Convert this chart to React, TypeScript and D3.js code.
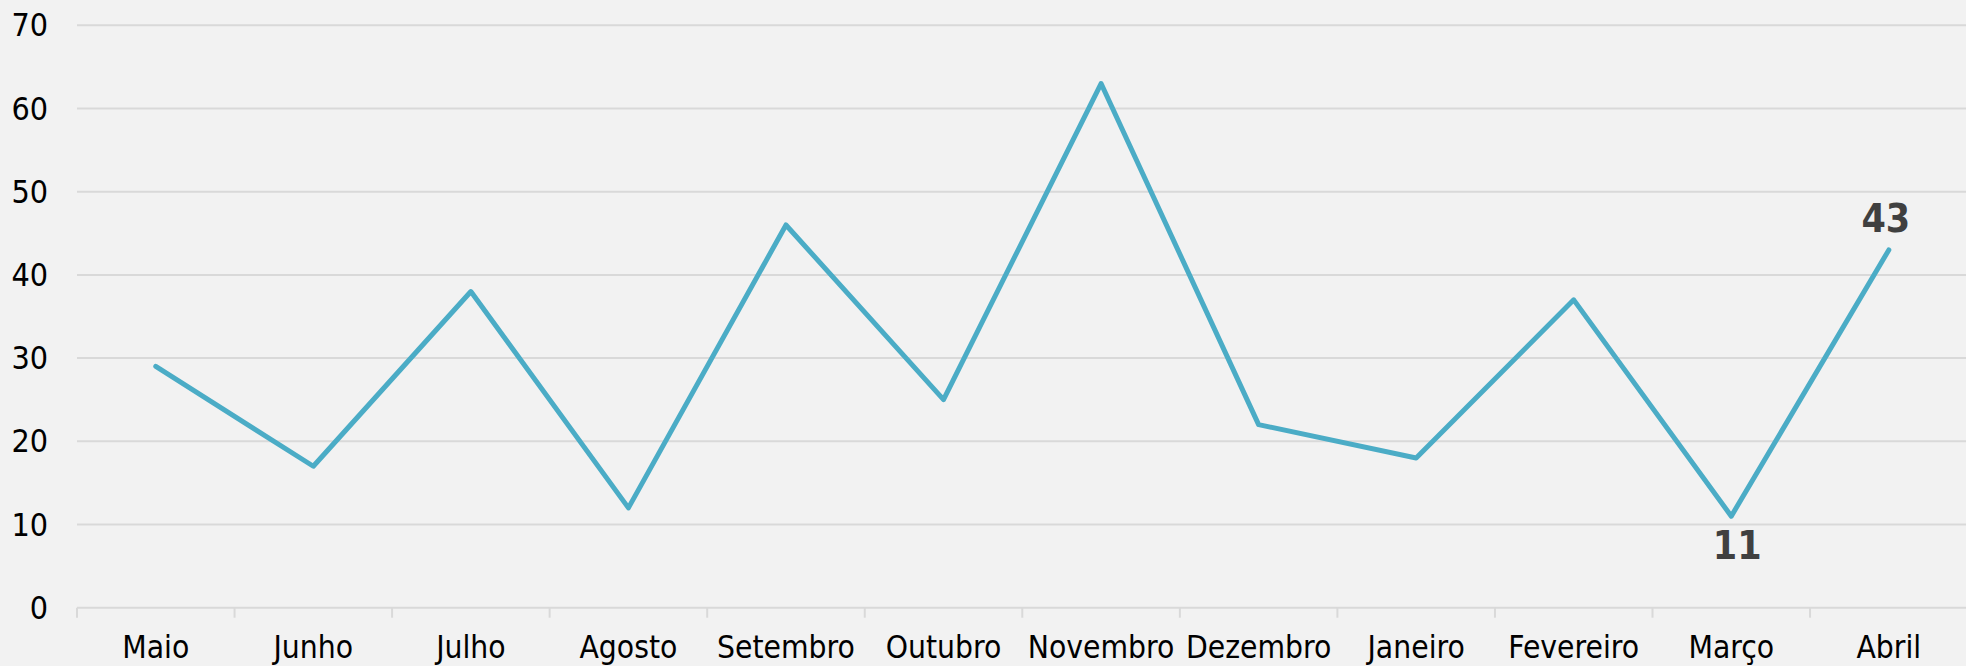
import React from "react";
import * as d3 from "d3";

const categories = ["Maio", "Junho", "Julho", "Agosto", "Setembro", "Outubro", "Novembro", "Dezembro", "Janeiro", "Fevereiro", "Março", "Abril"];
const values = [29, 17, 38, 12, 46, 25, 63, 22, 18, 37, 11, 43];
const yTicks = [0, 10, 20, 30, 40, 50, 60, 70];
const labelled = [
  { index: 10, pos: "below" },
  { index: 11, pos: "above" },
];

const W = 1966;
const H = 666;
const FONT = "'DejaVu Sans Condensed', 'DejaVu Sans', sans-serif";

export default function App() {
  const x = d3.scaleBand<string>().domain(categories).range([77, 1967.6]).padding(0);
  const y = d3.scaleLinear().domain([0, 70]).range([607.7, 25.3]);
  const cx = (c: string) => (x(c) as number) + x.bandwidth() / 2;
  const line = d3
    .line<number>()
    .x((_, i) => cx(categories[i]))
    .y((d) => y(d));
  const tickXs = categories.map((c) => x(c) as number).concat([1967.6]);

  return (
    <svg
      width={W}
      height={H}
      style={{ position: "fixed", left: 0, top: 0, background: "#F2F2F2" }}
    >
      <rect x={0} y={0} width={W} height={H} fill="#F2F2F2" />
      {yTicks.map((t) => (
        <g key={t}>
          <line x1={77} x2={W} y1={y(t)} y2={y(t)} stroke="#D9D9D9" strokeWidth={2} />
          <text
            x={48}
            y={y(t)}
            textAnchor="end"
            dominantBaseline="central"
            fontFamily={FONT}
            fontSize={32}
            fill="#000"
          >
            {t}
          </text>
        </g>
      ))}
      {tickXs.map((tx, i) => (
        <line key={i} x1={tx} x2={tx} y1={y(0)} y2={y(0) + 10} stroke="#D9D9D9" strokeWidth={2} />
      ))}
      {categories.map((c) => (
        <text
          key={c}
          x={cx(c)}
          y={658}
          textAnchor="middle"
          fontFamily={FONT}
          fontSize={31.5}
          fill="#000"
        >
          {c}
        </text>
      ))}
      <path
        d={line(values) || ""}
        fill="none"
        stroke="#4BACC6"
        strokeWidth={5}
        strokeLinejoin="round"
        strokeLinecap="round"
      />
      {labelled.map(({ index, pos }) => (
        <text
          key={index}
          x={cx(categories[index]) + (pos === "below" ? 6 : -3)}
          y={pos === "below" ? y(values[index]) + 43 : y(values[index]) - 18}
          textAnchor="middle"
          fontFamily={FONT}
          fontWeight="bold"
          fontSize={39}
          fill="#404040"
        >
          {values[index]}
        </text>
      ))}
    </svg>
  );
}
